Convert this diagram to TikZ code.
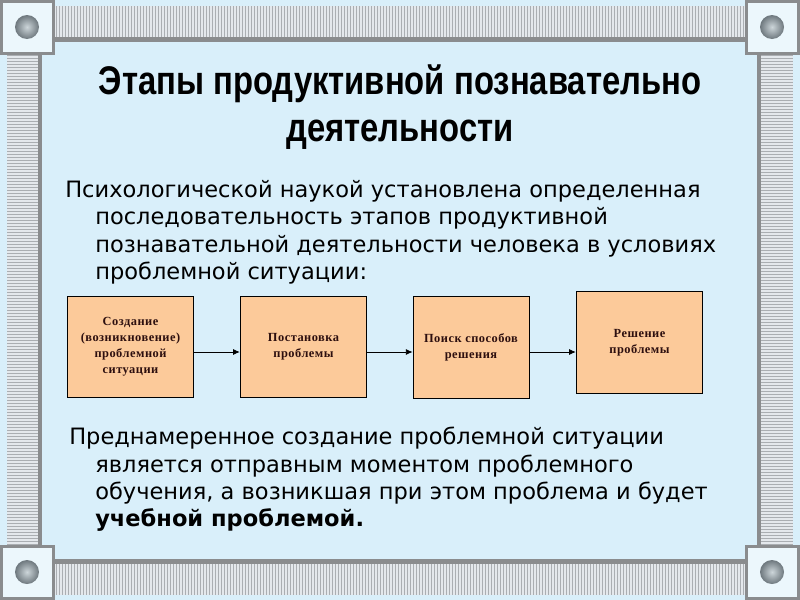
\documentclass[tikz,border=0pt]{standalone}
\usepackage{fontspec}
\setmainfont{DejaVu Sans}
\newfontfamily\titlefont[FakeStretch=0.82]{Liberation Sans}
\newfontfamily\stagefont[LetterSpace=4]{Liberation Serif}
\usepackage{tikz}
\usetikzlibrary{arrows.meta}
\definecolor{slidebg}{RGB}{217,239,250}
\definecolor{framegray}{RGB}{138,140,142}
\definecolor{stripelight}{RGB}{228,232,236}
\definecolor{stripedark}{RGB}{170,174,178}
\definecolor{ballin}{RGB}{205,214,218}
\definecolor{ballout}{RGB}{110,120,126}
\definecolor{peach}{RGB}{252,202,154}
\definecolor{stagetext}{RGB}{45,15,15}

\begin{document}
\begin{tikzpicture}[x=0.75pt, y=-0.75pt,
    stage/.style={rectangle, draw, line width=0.6pt, fill=peach, align=center, inner sep=0pt,
        text=stagetext, font=\stagefont\bfseries\fontsize{9.3}{12}\selectfont},
    flow/.style={-{Latex[length=5pt,width=4.5pt]}, line width=0.6pt},
    para/.style={anchor=north west, align=left, inner sep=0pt,
        font=\fontsize{16.9}{20.5}\selectfont}]
    \useasboundingbox (0,0) rectangle (800,600);
    \fill[slidebg] (0,0) rectangle (800,600);

    % frame bars
    \fill[stripelight] (55,6) rectangle (745,37);
    \foreach \x in {56,59,...,744} \draw[stripedark, line width=0.75pt] (\x,6) -- (\x,37);
    \fill[framegray] (55,37) rectangle (745,42);
    \fill[framegray] (55,559) rectangle (745,564);
    \fill[stripelight] (55,564) rectangle (745,595);
    \foreach \x in {56,59,...,744} \draw[stripedark, line width=0.75pt] (\x,564) -- (\x,595);
    \fill[stripelight] (7,54) rectangle (38,546);
    \foreach \y in {55,58,...,545} \draw[stripedark, line width=0.75pt] (7,\y) -- (38,\y);
    \fill[framegray] (38,54) rectangle (42,546);
    \fill[framegray] (757,54) rectangle (761,546);
    \fill[stripelight] (761,54) rectangle (793,546);
    \foreach \y in {55,58,...,545} \draw[stripedark, line width=0.75pt] (761,\y) -- (793,\y);

    % corner squares
    \foreach \cx/\cy in {0/0, 745/0, 0/545, 745/545} {
        \filldraw[fill=slidebg!50!white, draw=framegray, line width=2.25pt]
            (\cx+1.5,\cy+1.5) rectangle (\cx+53.5,\cy+53.5);
        \shade[inner color=ballin, outer color=ballout] (\cx+27,\cy+27) circle[radius=9pt];
    }

    \node[align=center, inner sep=0pt, font=\titlefont\bfseries\fontsize{30}{35}\selectfont]
        at (400,107) (title) {Этапы продуктивной познавательно\\деятельности};

    \node[para] at (65,180) (intro) {Психологической наукой установлена определенная\\
        \hspace*{22.5pt}последовательность этапов продуктивной\\
        \hspace*{22.5pt}познавательной деятельности человека в условиях\\
        \hspace*{22.5pt}проблемной ситуации:};

    \node[stage, minimum width=95pt, minimum height=76pt] at (130.5,347) (s1) {Создание\\(возникновение)\\проблемной\\ситуации};
    \node[stage, minimum width=95pt, minimum height=76pt] at (303.5,347) (s2) {Постановка\\проблемы};
    \node[stage, minimum width=87pt, minimum height=76.5pt] at (471,347) (s3) {Поиск способов\\решения};
    \node[stage, minimum width=95pt, minimum height=76pt] at (639.5,342.5) (s4) {Решение\\проблемы};

    \draw[flow] ([yshift=-3.75pt]s1.east) -- ([yshift=-3.75pt]s2.west);
    \draw[flow] ([yshift=-3.75pt]s2.east) -- ([yshift=-3.75pt]s3.west);
    \draw[flow] ([yshift=-3.75pt]s3.east) -- ([yshift=-3.75pt]s3.east -| s4.west);

    \node[para] at (69,427) (outro) {Преднамеренное создание проблемной ситуации\\
        \hspace*{19.5pt}является отправным моментом проблемного\\
        \hspace*{19.5pt}обучения, а возникшая при этом проблема и будет\\
        \hspace*{19.5pt}\textbf{учебной проблемой.}};
\end{tikzpicture}
\end{document}
